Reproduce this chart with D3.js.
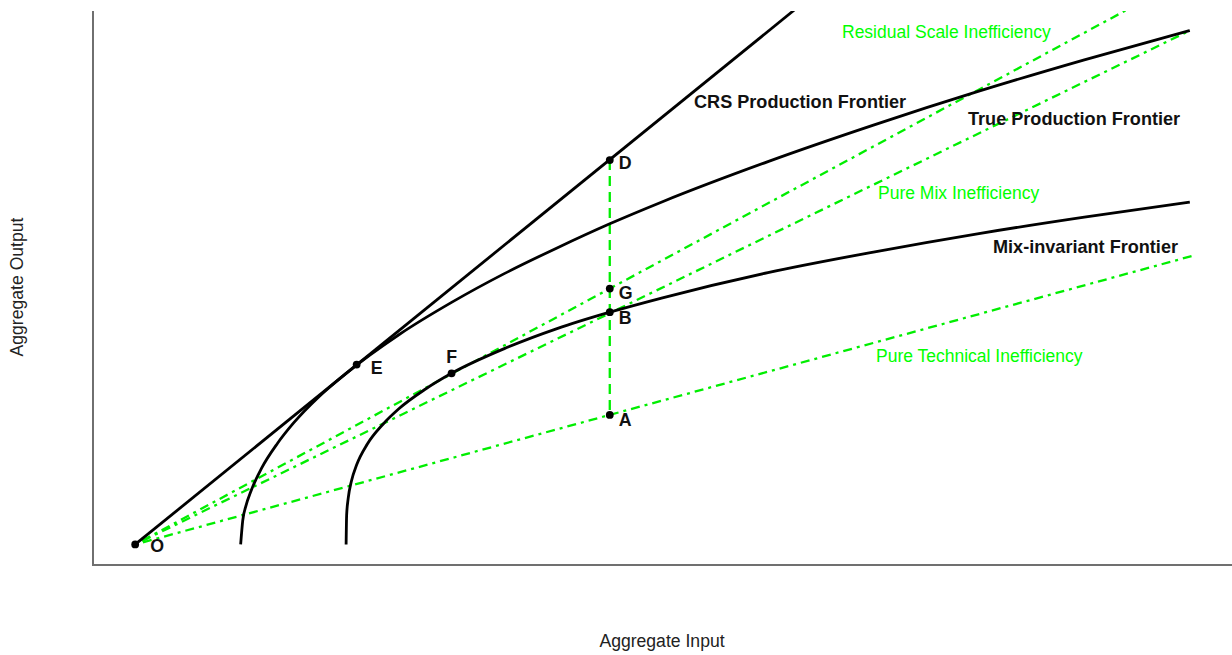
<!DOCTYPE html>
<html>
<head>
<meta charset="utf-8">
<script src="https://cdn.jsdelivr.net/npm/d3@7"></script>
<style>
  html, body { margin: 0; padding: 0; background: #fff; }
  svg { display: block; }
  text { font-family: "Liberation Sans", Arial, sans-serif; }
</style>
</head>
<body>
<script>
// ---- Data (aggregate input, aggregate output) ----
// True production frontier
const trueFrontier = [
  [1.00, 0.00], [1.02, 0.47], [1.05, 0.75], [1.10, 1.05], [1.20, 1.49],
  [1.35, 1.97], [1.50, 2.36], [1.75, 2.89], [2.00, 3.33], [2.50, 4.08],
  [3.00, 4.71], [3.50, 5.27], [4.00, 5.77], [4.50, 6.24], [5.00, 6.67],
  [6.00, 7.45], [7.00, 8.16], [8.00, 8.82], [9.00, 9.43], [10.00, 10.00]
];
// Mix-invariant frontier
const mixInvariantFrontier = [
  [2.000, 0.00], [2.005, 0.57], [2.02, 0.90], [2.05, 1.23], [2.10, 1.55],
  [2.20, 1.95], [2.35, 2.34], [2.50, 2.64], [2.75, 3.02], [3.00, 3.33],
  [3.50, 3.81], [4.00, 4.20], [4.50, 4.52], [5.00, 4.80], [6.00, 5.29],
  [7.00, 5.69], [8.00, 6.05], [9.00, 6.37], [10.00, 6.66]
];
// CRS production frontier (ray through the origin)
const crsFrontier = [[0, 0], [6.25, 10.4]];

// Inefficiency rays from the origin
const residualScaleRay = [[0, 0], [9.4, 10.4]];
const pureMixRay = [[0, 0], [10, 10]];
const pureTechnicalRay = [[0, 0], [10.05, 5.63]];

// Vertical segment at the observed input level
const observedInput = 4.5;
const verticalSegment = [[observedInput, 7.48], [observedInput, 2.52]];

// Labelled points
const pointNames = ["O", "E", "F", "D", "G", "B", "A"];
const pointX = [0, 2.1, 3.0, 4.5, 4.5, 4.5, 4.5];
const pointY = [0, 3.5, 3.33, 7.48, 4.98, 4.52, 2.52];

// Text
const curveLabels = ["CRS Production Frontier", "True Production Frontier", "Mix-invariant Frontier"];
const rayLabels = ["Residual Scale Inefficiency", "Pure Mix Inefficiency", "Pure Technical Inefficiency"];
const xTitle = "Aggregate Input";
const yTitle = "Aggregate Output";

// ---- Layout ----
const W = 1232, H = 655;
const plot = { left: 93, right: 1232, top: 11, bottom: 565 };
const green = "#00ee00";
const greenText = "#00ff00";

const svg = d3.select("body").append("svg").attr("width", W).attr("height", H);

const x = d3.scaleLinear().domain([-0.4, 10.4]).range([plot.left, plot.right]);
const y = d3.scaleLinear().domain([-0.4, 10.4]).range([plot.bottom, 10]);

svg.append("clipPath").attr("id", "plot-clip")
  .append("rect")
  .attr("x", plot.left).attr("y", plot.top)
  .attr("width", plot.right - plot.left).attr("height", plot.bottom - plot.top);

const g = svg.append("g").attr("clip-path", "url(#plot-clip)");

const straight = d3.line().x(d => x(d[0])).y(d => y(d[1]));
const smooth = d3.line().x(d => x(d[0])).y(d => y(d[1])).curve(d3.curveMonotoneX);

// Green dash-dot rays
[residualScaleRay, pureMixRay, pureTechnicalRay].forEach(ray => {
  g.append("path").attr("d", straight(ray))
    .attr("fill", "none").attr("stroke", green).attr("stroke-width", 2.3)
    .attr("stroke-dasharray", "3 5 9 5");
});

// Green dashed vertical segment D–A
g.append("path").attr("d", straight(verticalSegment))
  .attr("fill", "none").attr("stroke", green).attr("stroke-width", 2.3)
  .attr("stroke-dasharray", "10 6");

// Black frontiers
g.append("path").attr("d", straight(crsFrontier))
  .attr("fill", "none").attr("stroke", "#000").attr("stroke-width", 2.8);
g.append("path").attr("d", smooth(trueFrontier))
  .attr("fill", "none").attr("stroke", "#000").attr("stroke-width", 2.8)
  .attr("stroke-linejoin", "round");
g.append("path").attr("d", smooth(mixInvariantFrontier))
  .attr("fill", "none").attr("stroke", "#000").attr("stroke-width", 2.8)
  .attr("stroke-linejoin", "round");

// Points and their letters
const labelOffset = {
  O: [15, 2, "start"], E: [14, 3, "start"], F: [0, -16, "middle"],
  D: [9, 3, "start"], G: [9, 4, "start"], B: [9, 6, "start"], A: [9, 5, "start"]
};
pointNames.forEach((name, i) => {
  const px = x(pointX[i]), py = y(pointY[i]);
  svg.append("circle").attr("cx", px).attr("cy", py).attr("r", 3.9).attr("fill", "#000");
  const [dx, dy, anchor] = labelOffset[name];
  svg.append("text").attr("x", px + dx).attr("y", py + dy)
    .attr("dominant-baseline", "central").attr("text-anchor", anchor)
    .attr("font-size", 17.8).attr("font-weight", "bold").attr("fill", "#111")
    .text(name);
});

// Frontier labels
const curveLabelPos = [[694, 108], [968, 125], [993, 253]];
curveLabels.forEach((t, i) => {
  svg.append("text").attr("x", curveLabelPos[i][0]).attr("y", curveLabelPos[i][1])
    .attr("font-size", 18.1).attr("font-weight", "bold").attr("fill", "#111").text(t);
});

// Inefficiency labels
const rayLabelPos = [[842, 38], [878, 199], [876, 362]];
rayLabels.forEach((t, i) => {
  svg.append("text").attr("x", rayLabelPos[i][0]).attr("y", rayLabelPos[i][1])
    .attr("font-size", 17.5).attr("fill", greenText).text(t);
});

// Axes (plain lines, no ticks)
svg.append("line").attr("x1", plot.left).attr("x2", plot.left)
  .attr("y1", plot.top).attr("y2", plot.bottom + 1)
  .attr("stroke", "#222").attr("stroke-width", 1.3);
svg.append("line").attr("x1", plot.left).attr("x2", plot.right)
  .attr("y1", plot.bottom).attr("y2", plot.bottom)
  .attr("stroke", "#707070").attr("stroke-width", 2);

// Axis titles
svg.append("text").attr("x", 662).attr("y", 647).attr("text-anchor", "middle")
  .attr("font-size", 17.6).attr("fill", "#222").text(xTitle);
svg.append("text").attr("transform", "translate(23,287) rotate(-90)")
  .attr("text-anchor", "middle").attr("font-size", 17.6).attr("fill", "#222").text(yTitle);
</script>
</body>
</html>
